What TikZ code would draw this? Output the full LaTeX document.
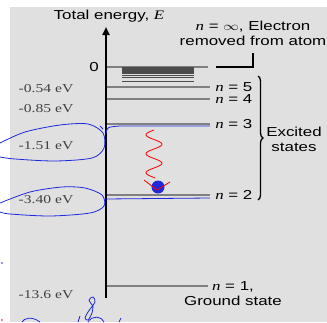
\documentclass[tikz,border=0pt]{standalone}
\usepackage{fontspec}
\setmainfont{Liberation Serif}
\setsansfont{Liberation Sans}
\usetikzlibrary{arrows.meta, decorations.pathreplacing, positioning}
\definecolor{panel}{gray}{0.88}
\definecolor{levelgray}{gray}{0.5}
\definecolor{pen}{RGB}{30,40,220}

\begin{document}
\begin{tikzpicture}[x=1pt, y=-1pt,
  lbl/.style   = {font=\fontsize{13}{15}\selectfont\sffamily, xscale=1.3,
                  align=center, inner sep=0pt},
  evl/.style   = {font=\fontsize{12}{14}\selectfont, text=black!75, xscale=1.3,
                  inner sep=0pt},
  level/.style = {levelgray, line width=2pt},
  hand/.style  = {pen, line width=0.8pt},
  wave/.style  = {red, line width=0.8pt}
]
  \useasboundingbox (0,0) rectangle (327,322);
  \fill[panel] (10,7) rectangle (327,322);
  \clip (0,0) rectangle (327,322);

  % energy axis
  \coordinate (base) at (106,298);
  \coordinate (top) at (106,27);
  \draw[line width=2.2pt, -{Triangle[length=8pt,width=7pt]}] (base) -- (top);
  \node[lbl] (title) at (109,16) {Total energy, {\rmfamily\itshape E}};

  % ionisation limit and the crowded levels below it
  \coordinate (L0a) at (107,67);
  \coordinate (L0b) at (208,67);
  \draw[level] (L0a) -- (L0b);
  \node[lbl] (zero) at (94,67) {0};
  \foreach \n in {6,...,25}
    \draw[black!70, line width=0.9pt] (122,{67+510/(\n*\n)}) -- (194,{67+510/(\n*\n)});
  \coordinate (kink) at (253,67);
  \draw[line width=1.3pt] (216,67) -- (kink) -- (253,53);
  \node[lbl] (inf) at (253,33) {{\rmfamily\itshape n} = $\infty$, Electron\\removed from atom};

  % bound levels
  \foreach \n/\E in {5/0.54, 4/0.85, 3/1.51, 2/3.40} {
    \coordinate (L\n a) at (107,{67+37.5*\E});
    \coordinate (L\n b) at (210,{67+37.5*\E});
    \draw[level] (L\n a) -- (L\n b);
    \node[lbl, anchor=west] (n\n) at ([xshift=5pt]L\n b) {{\rmfamily\itshape n} = \n};
  }
  \coordinate (L1a) at (107,286);
  \coordinate (L1b) at (208,286);
  \draw[level] (L1a) -- (L1b);
  \node[lbl] (n1) at (233,293.5) {{\rmfamily\itshape n} = 1,\\Ground state};

  \draw[decorate, decoration={brace, amplitude=5pt}, line width=1.3pt] (258,76) -- (258,200);
  \node[lbl] (exc) at (294,139) {Excited\\states};

  % energies
  \node[evl] (e5) at (46,89)  {-0.54 eV};
  \node[evl] (e4) at (46,109) {-0.85 eV};
  \node[evl] (e3) at (46,146) {-1.51 eV};
  \node[evl] (e2) at (46,200) {-3.40 eV};
  \node[evl] (e1) at (46,295) {-13.6 eV};

  % pen marks
  \draw[hand] plot[smooth] coordinates {(0,143) (25,132) (60,125) (88,124) (103,133)
    (104,148) (92,158) (55,161) (15,159) (0,157)};
  \draw[hand] (100,126) -- (103,129);
  \coordinate (h3) at (210,126);
  \draw[hand] (106,134) .. controls (107,127) .. (120,126) -- (h3);
  \draw[hand] plot[smooth] coordinates {(0,203) (30,192) (62,187) (85,188) (102,195)
    (104,206) (90,213) (50,216) (10,214) (0,212)};
  \coordinate (h2) at (210,198);
  \draw[hand] (105,199) -- (h2);

  \fill[pen] (158,187) circle (6.5);
  \draw[wave] plot[domain=0:48, samples=80, smooth] ({154-8*sin(\x*18.95)}, {130+\x});
  \draw[wave] (144,180) -- (157,190) -- (170,182);

  \draw[hand] plot[smooth] coordinates {(93,306) (89,300) (93,297) (95,302) (88,312)
    (85,318) (88,320) (92,313) (93,306)};
  \draw[hand] (40,322) .. controls (32,316) and (24,318) .. (22,322);
  \draw[hand] (78,322) -- (80,316);
  \draw[hand] (88,322) .. controls (92,315) and (102,316) .. (104,322);
  \draw[hand] (119,322) -- (121,318);
  \fill[pen] (2,263) circle (0.8);
  \fill[red] (2,320) circle (0.8);
\end{tikzpicture}
\end{document}
